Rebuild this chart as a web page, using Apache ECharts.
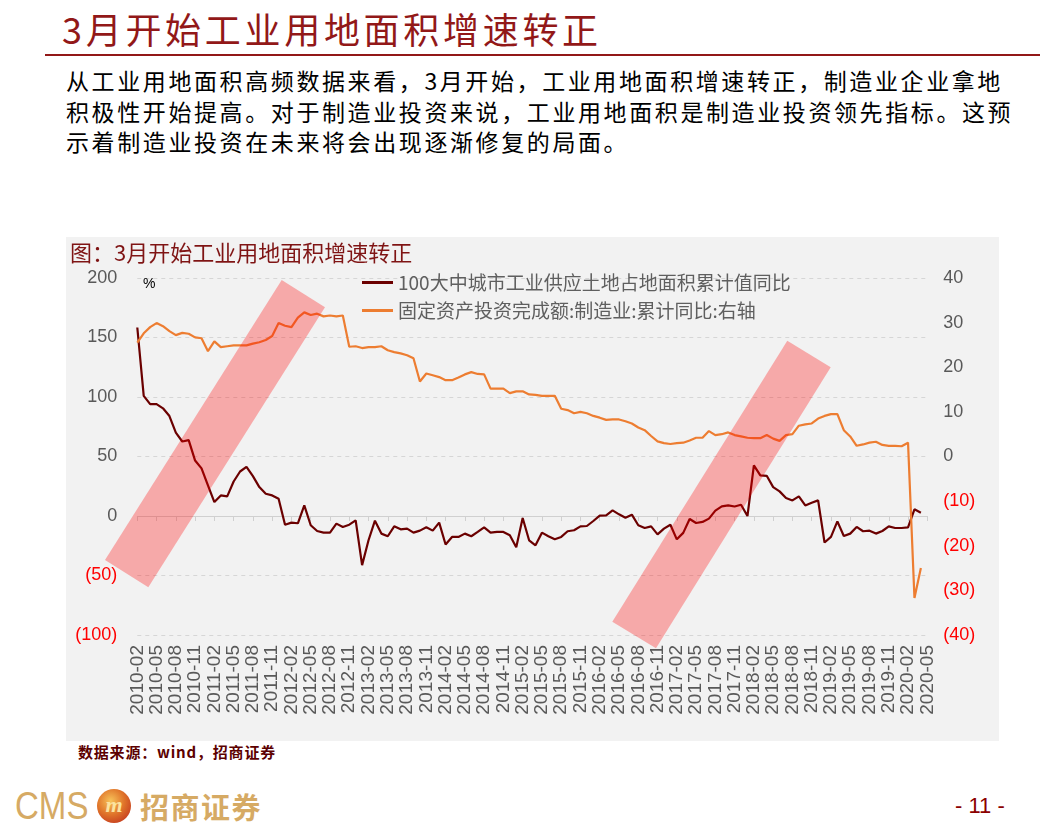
<!DOCTYPE html>
<html>
<head>
<meta charset="utf-8">
<script src="https://cdn.jsdelivr.net/npm/echarts@6/dist/echarts.min.js"></script>
<style>
html,body{margin:0;padding:0;background:#fff;width:1040px;height:826px;overflow:hidden;position:relative;font-family:"Noto Sans CJK SC",sans-serif;}
#title{position:absolute;left:62px;top:6px;font-size:36px;letter-spacing:3.7px;color:#921818;line-height:44px;white-space:nowrap;}
#rule{position:absolute;left:45px;top:54px;width:995px;height:2px;background:#921818;}
#para{position:absolute;left:66px;top:65px;font-size:23px;letter-spacing:2.6px;line-height:30.5px;color:#000;white-space:nowrap;}
#chart{position:absolute;left:66px;top:237px;width:933px;height:504px;background:#f2f2f2;}
#src{position:absolute;left:78px;top:742px;font-size:15px;font-weight:bold;color:#5c0000;letter-spacing:0.8px;line-height:20px;white-space:nowrap;}
#cms{position:absolute;left:15px;top:787px;font-family:"Liberation Sans",sans-serif;font-size:38px;line-height:38px;color:#d6aa64;transform:scaleX(0.87);transform-origin:left top;white-space:nowrap;}
#emb{position:absolute;left:97px;top:789px;width:34px;height:34px;border-radius:50%;background:radial-gradient(circle at 40% 35%,#f7c35a 0%,#e0752a 45%,#b8201a 100%);color:#fbe3a0;font-family:"Liberation Serif",serif;font-weight:bold;font-style:italic;font-size:22px;line-height:32px;text-align:center;}
#cmscn{position:absolute;left:140px;top:789px;font-size:29px;font-weight:bold;letter-spacing:1.5px;line-height:34px;color:#d6aa64;white-space:nowrap;}
#page{position:absolute;left:955px;top:794px;font-family:"Liberation Sans",sans-serif;font-size:22px;line-height:24px;color:#8b0000;white-space:nowrap;}
</style>
</head>
<body>
<div id="title">3月开始工业用地面积增速转正</div>
<div id="rule"></div>
<div id="para">从工业用地面积高频数据来看，3月开始，工业用地面积增速转正，制造业企业拿地<br>积极性开始提高。对于制造业投资来说，工业用地面积是制造业投资领先指标。这预<br>示着制造业投资在未来将会出现逐渐修复的局面。</div>
<div id="chart"></div>
<div id="src">数据来源：wind，招商证券</div>
<div id="cms">CMS</div>
<div id="emb">m</div>
<div id="cmscn">招商证券</div>
<div id="page">- 11 -</div>
<script>
// Monthly categories
const months = [
  '2010-02','2010-03','2010-04','2010-05','2010-06','2010-07','2010-08','2010-09','2010-10','2010-11','2010-12',
  '2011-01','2011-02','2011-03','2011-04','2011-05','2011-06','2011-07','2011-08','2011-09','2011-10','2011-11','2011-12',
  '2012-01','2012-02','2012-03','2012-04','2012-05','2012-06','2012-07','2012-08','2012-09','2012-10','2012-11','2012-12',
  '2013-01','2013-02','2013-03','2013-04','2013-05','2013-06','2013-07','2013-08','2013-09','2013-10','2013-11','2013-12',
  '2014-01','2014-02','2014-03','2014-04','2014-05','2014-06','2014-07','2014-08','2014-09','2014-10','2014-11','2014-12',
  '2015-01','2015-02','2015-03','2015-04','2015-05','2015-06','2015-07','2015-08','2015-09','2015-10','2015-11','2015-12',
  '2016-01','2016-02','2016-03','2016-04','2016-05','2016-06','2016-07','2016-08','2016-09','2016-10','2016-11','2016-12',
  '2017-01','2017-02','2017-03','2017-04','2017-05','2017-06','2017-07','2017-08','2017-09','2017-10','2017-11','2017-12',
  '2018-01','2018-02','2018-03','2018-04','2018-05','2018-06','2018-07','2018-08','2018-09','2018-10','2018-11','2018-12',
  '2019-01','2019-02','2019-03','2019-04','2019-05','2019-06','2019-07','2019-08','2019-09','2019-10','2019-11','2019-12',
  '2020-01','2020-02','2020-03','2020-04','2020-05'
];

// 100大中城市工业供应土地占地面积累计值同比 (left axis, %)
const landArea = [
  158.4, 101, 94, 94, 90.5, 84, 70, 62.6, 63.7, 46.6, 40, 25.7,
  11.7, 17.3, 16.5, 29, 37.4, 41.3, 33.5, 24.3, 18.7, 17.3, 14.5, -7.3,
  -5.6, -6.1, 8.9, -7.8, -12.6, -14, -14, -6.4, -9.2, -7.3, -3.6, -41.3,
  -20.4, -3.9, -14.8, -17, -8.7, -11.2, -10.6, -14, -12.3, -9.5, -12.3, -5.6,
  -24, -17.6, -17.6, -14.8, -17, -13.4, -9.5, -14, -13.4, -13.4, -16.2, -26.3,
  -1.7, -20.4, -24.6, -14, -17, -19.6, -17.6, -12.8, -12, -8.7, -8.4, -4.2,
  0.3, 0.6, 4.7, 1.4, -1.4, 1.1, -7.8, -10.1, -8.7, -15.4, -10.6, -7.3,
  -19.6, -14.2, -2.5, -5.9, -5, -2.2, 4.5, 8.1, 8.9, 8, 9.5, 0,
  42.5, 34.1, 33.8, 24.3, 20.7, 15.1, 13.1, 16.5, 8.9, 11.2, 13.1, -22.3,
  -17.6, -4.5, -16.8, -14.8, -9.2, -12.8, -12.3, -14.8, -12.6, -8.7, -10.1, -10.1,
  -9.5, 5.6, 2.8, null
];

// 固定资产投资完成额:制造业:累计同比 (right axis, %)
const fai = [
  25.5, 27.6, 29.0, 29.9, 29.2, 28.1, 27.2, 27.7, 27.5, 26.7, 26.5, 23.6,
  25.8, 24.5, 24.7, 24.9, 24.9, 24.9, 25.3, 25.6, 26.1, 27.0, 29.9, 29.3,
  29.0, 31.1, 32.3, 31.7, 32.0, 31.4, 31.6, 31.4, 31.6, 24.6, 24.7, 24.3,
  24.5, 24.5, 24.7, 23.8, 23.4, 23.1, 22.7, 22.0, 16.8, 18.6, 18.2, 17.8,
  17.1, 17.1, 17.7, 18.4, 18.9, 18.5, 18.4, 15.2, 15.2, 15.2, 14.2, 14.6,
  14.6, 13.9, 13.8, 13.6, 13.6, 13.6, 10.7, 10.4, 9.7, 10.0, 9.7, 9.1,
  8.7, 8.2, 8.3, 8.3, 7.9, 7.4, 6.5, 5.9, 4.6, 3.4, 3.0, 2.8,
  3.0, 3.1, 3.6, 4.2, 4.2, 5.7, 4.8, 5.0, 5.4, 4.8, 4.5, 4.2,
  4.1, 4.1, 4.8, 4.0, 3.5, 4.8, 5.0, 6.9, 7.2, 7.4, 8.5, 9.1,
  9.5, 9.5, 5.9, 4.5, 2.4, 2.7, 3.1, 3.3, 2.6, 2.4, 2.4, 2.3,
  3.1, -31.7, -25.0, null
];

const seriesNames = ['100大中城市工业供应土地占地面积累计值同比', '固定资产投资完成额:制造业:累计同比:右轴'];
const leftTicks = {min: -100, max: 200, interval: 50};
const rightTicks = {min: -40, max: 40, interval: 10};

const numFont = '"Liberation Sans", Arial, sans-serif';
const cjkFont = '"Noto Sans CJK SC", sans-serif';

function fmtNeg(v) {
  return v < 0 ? '{neg|(' + (-v) + ')}' : String(v);
}

const chart = echarts.init(document.getElementById('chart'), null, {renderer: 'canvas'});
chart.setOption({
  animation: false,
  backgroundColor: '#f2f2f2',
  title: {
    text: '图：3月开始工业用地面积增速转正',
    left: 4, top: 5, padding: 0,
    textStyle: {fontSize: 22, fontWeight: 'normal', color: '#7f1414', fontFamily: cjkFont}
  },
  legend: {
    orient: 'vertical', left: 296, top: 36, padding: 0,
    itemWidth: 31, itemHeight: 3, itemGap: 9, icon: 'rect',
    textStyle: {fontSize: 19, lineHeight: 19, color: '#5f5f5f', fontFamily: cjkFont},
    data: seriesNames
  },
  grid: {left: 71.3, top: 41, width: 790, height: 357, containLabel: false},
  xAxis: [
    {
      type: 'category', data: months, boundaryGap: false,
      axisLine: {show: false, onZero: false}, axisTick: {show: false},
      axisLabel: {interval: 2, rotate: 90, fontSize: 19, color: '#595959', margin: 10, fontFamily: numFont},
      splitLine: {show: false}
    },
    {
      type: 'category', data: months, boundaryGap: false, position: 'bottom',
      axisLine: {show: true, onZero: true, onZeroAxisIndex: 0, lineStyle: {color: '#d0d0d0', width: 1}},
      axisTick: {show: true, interval: 2, length: 5, lineStyle: {color: '#d0d0d0'}},
      axisLabel: {show: false}, splitLine: {show: false}
    }
  ],
  yAxis: [
    {
      type: 'value', min: leftTicks.min, max: leftTicks.max, interval: leftTicks.interval,
      axisLine: {show: false}, axisTick: {show: false},
      splitLine: {show: true, lineStyle: {type: [4, 4], color: '#d6d6d6', width: 1}},
      axisLabel: {margin: 20, fontSize: 18, color: '#595959', fontFamily: numFont, formatter: fmtNeg,
        rich: {neg: {color: '#ff0000', fontSize: 18, fontFamily: numFont}}}
    },
    {
      type: 'value', position: 'right', min: rightTicks.min, max: rightTicks.max, interval: rightTicks.interval,
      axisLine: {show: false}, axisTick: {show: false}, splitLine: {show: false},
      axisLabel: {margin: 16, fontSize: 18, color: '#595959', fontFamily: numFont, formatter: fmtNeg,
        rich: {neg: {color: '#ff0000', fontSize: 18, fontFamily: numFont}}}
    }
  ],
  series: [
    {
      name: seriesNames[0], type: 'line', data: landArea, xAxisIndex: 0, yAxisIndex: 0,
      symbol: 'none', showSymbol: false, z: 2,
      lineStyle: {color: '#6b0000', width: 2.2}, itemStyle: {color: '#6b0000'}
    },
    {
      name: seriesNames[1], type: 'line', data: fai, xAxisIndex: 0, yAxisIndex: 1,
      symbol: 'none', showSymbol: false, z: 3,
      lineStyle: {color: '#ED7D31', width: 2.2}, itemStyle: {color: '#ED7D31'}
    }
  ],
  graphic: [
    {type: 'text', left: 77, top: 40, z: 50, style: {text: '%', fontSize: 14, fill: '#000', fontFamily: numFont}},
    {type: 'polygon', z: 100, shape: {points: [[39, 323], [82.3, 350.3], [259, 70.3], [215.7, 43]]}, style: {fill: 'rgba(255,0,0,0.3)'}},
    {type: 'polygon', z: 100, shape: {points: [[546.3, 384.7], [590, 411.3], [764.7, 130.3], [721.3, 103.7]]}, style: {fill: 'rgba(255,0,0,0.3)'}}
  ]
});
</script>
</body>
</html>
